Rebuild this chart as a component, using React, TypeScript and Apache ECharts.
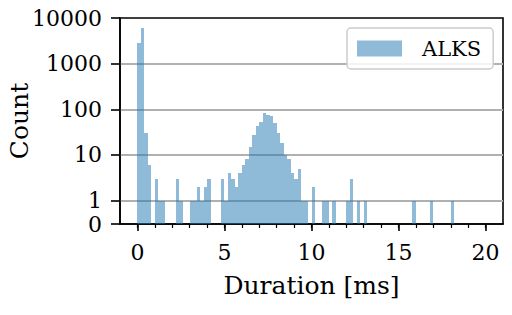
import React, { useEffect, useRef } from "react";
import * as echarts from "echarts";

// Histogram bins (left edge in ms) and their counts; bins are 0.2 ms wide
const binWidth = 0.2;
const binStarts = [
  0, 0.2, 0.4, 0.6, 1.0, 1.2, 1.4, 2.2, 2.4, 3.0, 3.2, 3.4, 3.6, 3.8, 4.0,
  4.8, 5.0, 5.2, 5.4, 5.6, 5.8, 6.0, 6.2, 6.4, 6.6, 6.8, 7.0, 7.2, 7.4, 7.6,
  7.8, 8.0, 8.2, 8.4, 8.6, 8.8, 9.0, 9.2, 9.4, 9.6, 10.0, 10.6, 10.8, 11.2,
  12.0, 12.2, 12.6, 13.0, 15.8, 16.8, 18.0,
];
const counts = [
  2900, 5900, 30, 6, 3, 1, 1, 3, 1, 1, 1, 2, 1, 2, 3,
  3, 1, 4, 3, 2, 4, 6, 8, 15, 27, 43, 53, 81, 76, 72,
  49, 30, 18, 10, 8, 4, 3, 5, 1, 1, 2, 1, 1, 1,
  1, 3, 1, 1, 1, 1, 1,
];
const seriesName = "ALKS";
const xTickValues = [0, 5, 10, 15, 20];
const xMinorTickValues = [0, 1, 2, 3, 4, 5, 6, 7, 8, 9, 10, 11, 12, 13, 14, 15, 16, 17, 18, 19, 20];
const yTickValues = [0, 1, 10, 100, 1000, 10000];

// symlog-like transform: 0 at the bottom, 1 half a decade above it
const LOG_OFFSET = 0.513;
const toAxis = (v: number) => (v <= 0 ? 0 : Math.log10(v) + LOG_OFFSET);

const FONT = "DejaVu Serif";

export default function App() {
  const ref = useRef<HTMLDivElement>(null);
  useEffect(() => {
    if (!ref.current) return;
    const chart = echarts.init(ref.current, undefined, { renderer: "svg" });
    const yTicksT = yTickValues.map(toAxis);
    chart.setOption({
      animation: false,
      backgroundColor: "#ffffff",
      grid: {
        left: 120,
        top: 18,
        right: 9,
        bottom: 91,
        outerBoundsMode: "none",
        containLabel: false,
        show: true,
        borderColor: "#000",
        borderWidth: 1.6,
        backgroundColor: "transparent",
      },
      legend: {
        data: [{ name: seriesName, icon: "rect" }],
        left: 347,
        top: 28,
        orient: "vertical",
        padding: [10, 12, 10, 10],
        itemWidth: 45,
        itemHeight: 16,
        backgroundColor: "rgba(255,255,255,0.85)",
        borderColor: "#cccccc",
        borderWidth: 1.5,
        borderRadius: 4,
        textStyle: {
          fontFamily: FONT,
          fontSize: 21,
          color: "#000",
          lineHeight: 18,
          padding: [0, 0, 0, 15],
        },
      },
      xAxis: [
        {
          type: "value",
          min: -1,
          max: 21,
          name: "Duration [ms]",
          nameLocation: "middle",
          nameGap: 49,
          nameMoveOverlap: false,
          nameTextStyle: { fontFamily: FONT, fontSize: 25, color: "#000" },
          axisLine: { show: true, onZero: false, lineStyle: { color: "#000", width: 1.6 } },
          axisTick: {
            show: true,
            length: 7,
            lineStyle: { color: "#000", width: 1.6 },
            customValues: xTickValues,
          },
          axisLabel: {
            show: true,
            margin: 17,
            fontFamily: FONT,
            fontSize: 22,
            color: "#000",
            customValues: xTickValues,
          },
          splitLine: { show: false },
        },
        {
          type: "value",
          min: -1,
          max: 21,
          position: "bottom",
          axisLine: { show: false, onZero: false },
          axisTick: {
            show: true,
            length: 4,
            lineStyle: { color: "#000", width: 1.2 },
            customValues: xMinorTickValues,
          },
          axisLabel: { show: false },
          splitLine: { show: false },
        },
      ],
      yAxis: {
        type: "value",
        min: 0,
        max: toAxis(10000),
        name: "Count",
        nameLocation: "middle",
        nameGap: 88,
        nameMoveOverlap: false,
        nameTextStyle: { fontFamily: FONT, fontSize: 25, color: "#000" },
        axisLine: { show: true, onZero: false, lineStyle: { color: "#000", width: 1.6 } },
        axisTick: {
          show: true,
          length: 9,
          lineStyle: { color: "#000", width: 1.6 },
          customValues: yTicksT,
        },
        axisLabel: {
          show: true,
          margin: 18,
          fontFamily: FONT,
          fontSize: 22,
          color: "#000",
          customValues: yTicksT,
          formatter: (val: number) => {
            let best = 0;
            let bestD = Infinity;
            yTickValues.forEach((t, i) => {
              const d = Math.abs(yTicksT[i] - val);
              if (d < bestD) {
                bestD = d;
                best = t;
              }
            });
            return String(best);
          },
        },
        splitLine: {
          show: true,
          showMinLine: false,
          showMaxLine: false,
          lineStyle: { color: "#b0b0b0", width: 1.8 },
        },
      },
      series: [
        {
          type: "custom",
          name: seriesName,
          xAxisIndex: 0,
          yAxisIndex: 0,
          itemStyle: { color: "rgba(31,119,180,0.5)" },
          encode: { x: [0, 1], y: 2 },
          data: binStarts.map((s, i) => [s, s + binWidth, toAxis(counts[i])]),
          renderItem: (params: any, api: any) => {
            const p0 = api.coord([api.value(0), api.value(2)]);
            const p1 = api.coord([api.value(1), 0]);
            const x0 = Math.round(p0[0]);
            const x1 = Math.round(p1[0]);
            const y0 = Math.round(p0[1]);
            const y1 = Math.round(p1[1]);
            return {
              type: "rect",
              shape: { x: x0, y: y0, width: x1 - x0, height: y1 - y0 },
              style: { fill: "rgba(31,119,180,0.5)" },
            };
          },
        },
      ],
    });
    return () => chart.dispose();
  }, []);
  return (
    <div
      ref={ref}
      style={{ position: "fixed", left: 0, top: 0, width: 512, height: 315 }}
    />
  );
}
